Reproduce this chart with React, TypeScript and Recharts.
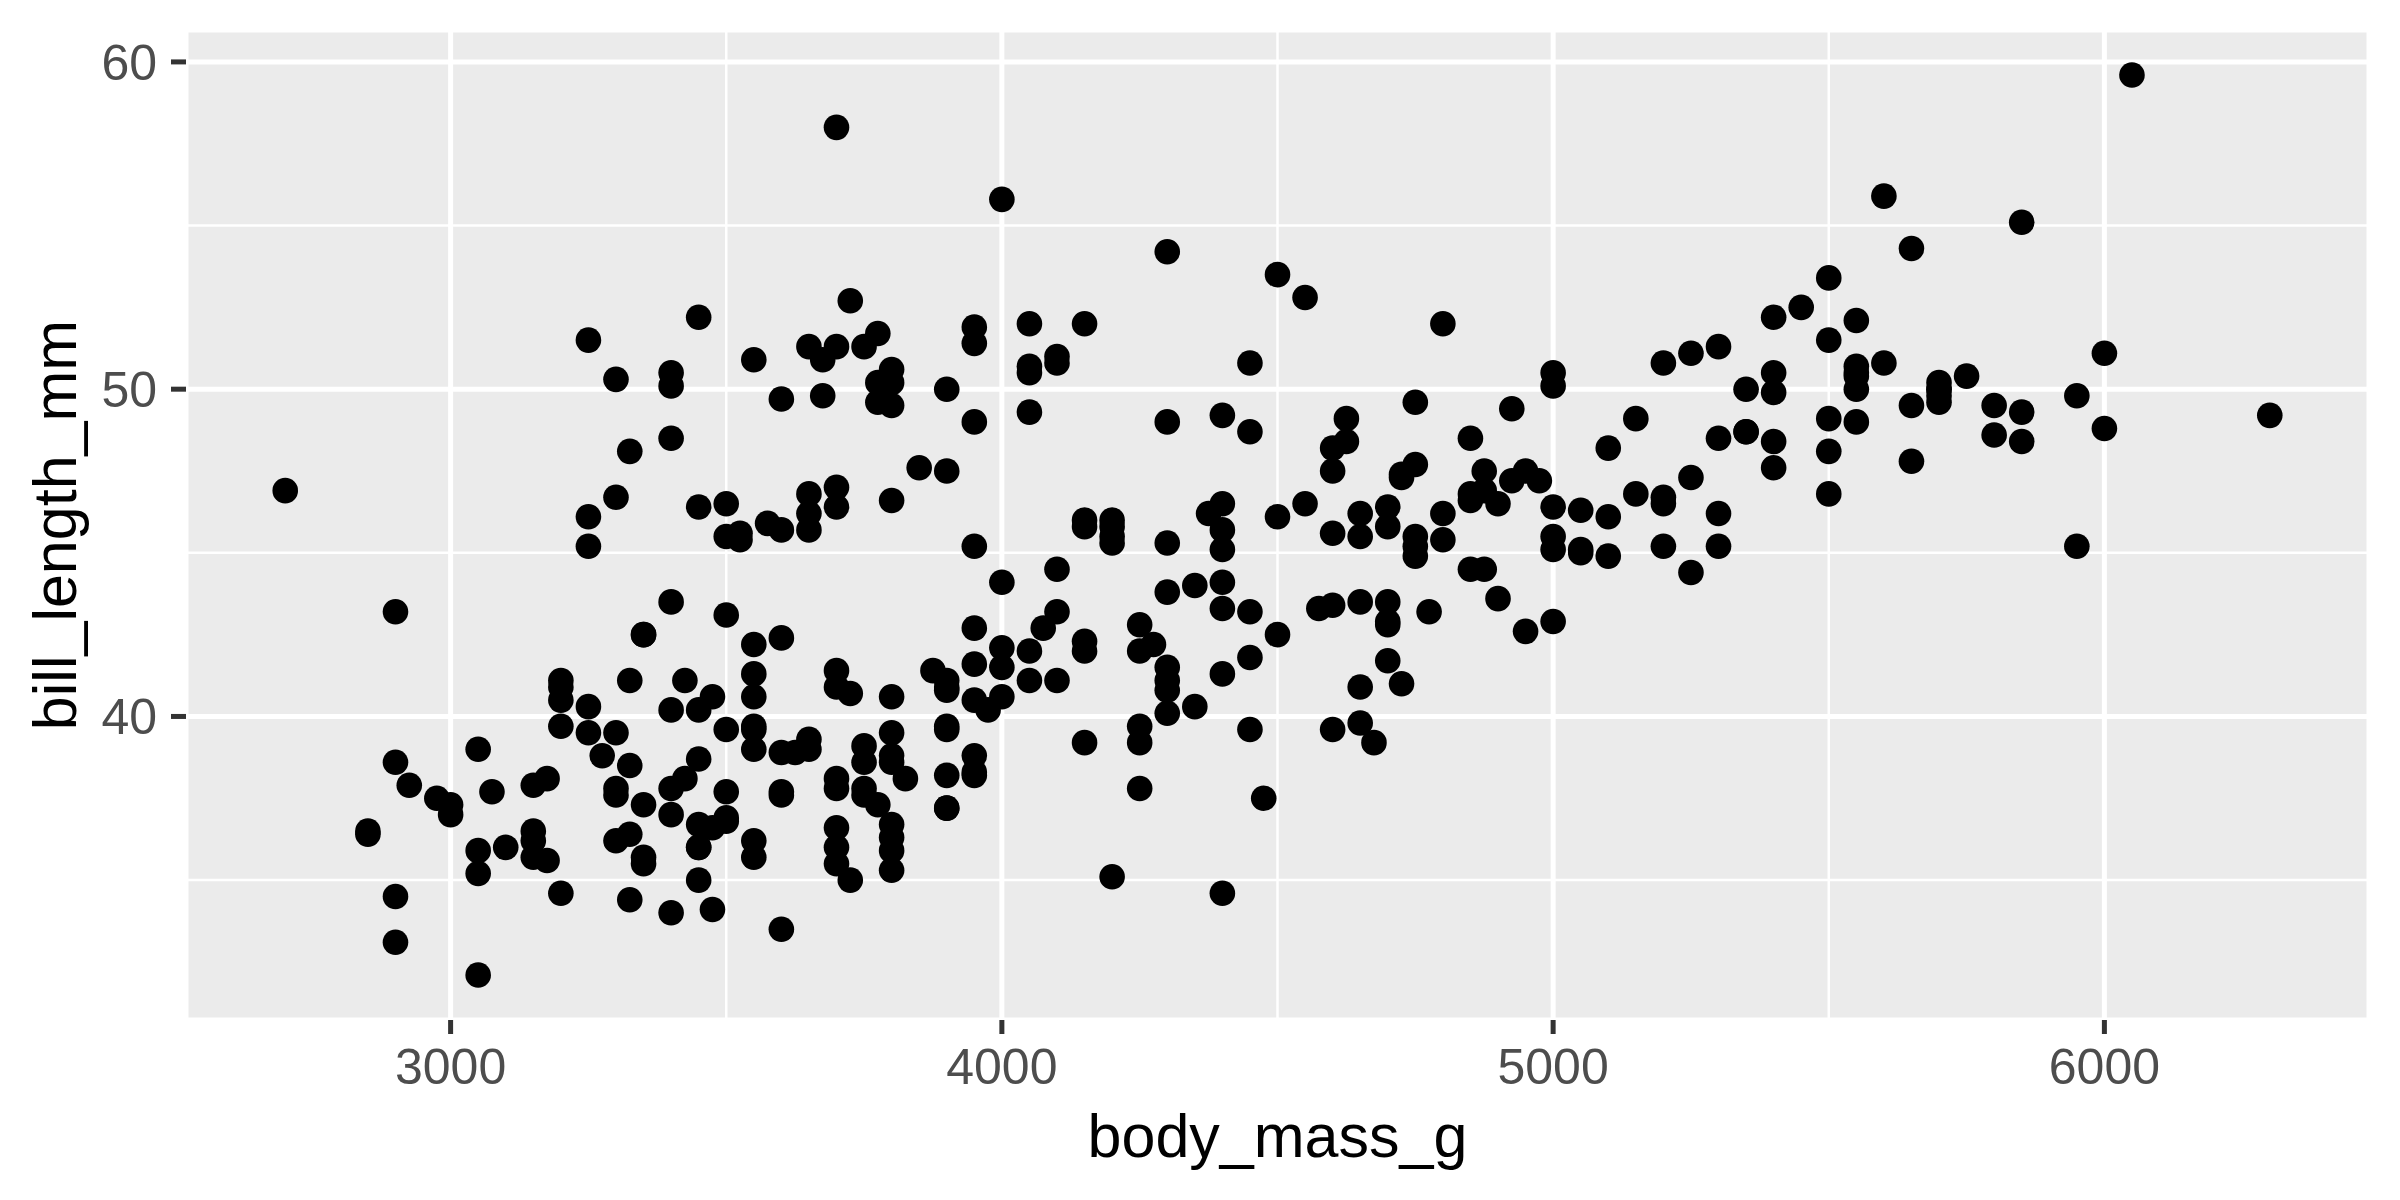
import React from "react";
import { ScatterChart, Scatter, XAxis, YAxis, CartesianGrid, Label } from "recharts";

// penguins: body mass (g) and bill length (mm), one pair per bird
const adelieMass = [3750, 3800, 3250, 3450, 3650, 3625, 4675, 3475, 4250, 3300, 3700, 3200, 3800, 4400, 3700, 3450, 4500, 3325, 4200, 3400, 3600, 3800, 3950, 3800, 3800, 3550, 3200, 3150, 3950, 3250, 3900, 3300, 3900, 3325, 4150, 3950, 3550, 3300, 4650, 3150, 3900, 3100, 4400, 3000, 4600, 3425, 2975, 3450, 4150, 3500, 4300, 3450, 4050, 2900, 3700, 3550, 3800, 2850, 3750, 3150, 4400, 3600, 4050, 2850, 3950, 3350, 4100, 3050, 4450, 3600, 3900, 3550, 4150, 3700, 4250, 3700, 3900, 3550, 4000, 3200, 4700, 3800, 4200, 3350, 3550, 3800, 3500, 3950, 3600, 3550, 4300, 3400, 4450, 3300, 4300, 3700, 4350, 2900, 4100, 3725, 4725, 3075, 4250, 2925, 3550, 3750, 3900, 3175, 4775, 3825, 4600, 3200, 4275, 3900, 4075, 2900, 3775, 3350, 3325, 3150, 3500, 3450, 3875, 3050, 4000, 3275, 4300, 3050, 4000, 3325, 3500, 3500, 4475, 3425, 3900, 3175, 3975, 3400, 4250, 3400, 3475, 3050, 3725, 3000, 3650, 4250, 3475, 3450, 3750, 3700, 4000];
const adelieBill = [39.1, 39.5, 40.3, 36.7, 39.3, 38.9, 39.2, 34.1, 42.0, 37.8, 37.8, 41.1, 38.6, 34.6, 36.6, 38.7, 42.5, 34.4, 46.0, 37.8, 37.7, 35.9, 38.2, 38.8, 35.3, 40.6, 40.5, 37.9, 40.5, 39.5, 37.2, 39.5, 40.9, 36.4, 39.2, 38.8, 42.2, 37.6, 39.8, 36.5, 40.8, 36.0, 44.1, 37.0, 39.6, 41.1, 37.5, 36.0, 42.3, 39.6, 40.1, 35.0, 42.0, 34.5, 41.4, 39.0, 40.6, 36.5, 37.6, 35.7, 41.3, 37.6, 41.1, 36.4, 41.6, 35.5, 41.1, 35.9, 41.8, 33.5, 39.7, 39.6, 45.8, 35.5, 42.8, 40.9, 37.2, 36.2, 42.1, 34.6, 42.9, 36.7, 35.1, 37.3, 41.3, 36.3, 36.9, 38.3, 38.9, 35.7, 41.1, 34.0, 39.6, 36.2, 40.8, 38.1, 40.3, 33.1, 43.2, 35.0, 41.0, 37.7, 37.8, 37.9, 39.7, 38.6, 38.2, 38.1, 43.2, 38.1, 45.6, 39.7, 42.2, 39.6, 42.7, 38.6, 37.3, 35.7, 41.1, 36.2, 37.7, 40.2, 41.4, 35.2, 40.6, 38.8, 41.5, 39.0, 44.1, 38.5, 43.1, 36.8, 37.5, 38.1, 41.1, 35.6, 40.2, 37.0, 39.7, 40.2, 40.6, 32.1, 40.7, 37.3, 39.0, 39.2, 36.6, 36.0, 37.8, 36.0, 41.5];

const gentooMass = [4500, 5700, 4450, 5700, 5400, 4550, 4800, 5200, 4400, 5150, 4650, 5550, 4650, 5850, 4200, 5850, 4150, 6300, 4800, 5350, 5700, 5000, 4400, 5050, 5000, 5100, 4100, 5650, 4600, 5550, 5250, 4700, 5050, 6050, 5150, 5400, 4950, 5250, 4350, 5350, 3950, 5700, 4300, 4750, 5550, 4900, 4200, 5400, 5100, 5300, 4850, 5300, 4400, 5000, 4900, 5050, 4300, 5000, 4450, 5550, 4200, 5300, 4400, 5650, 4700, 5700, 4650, 5800, 4700, 5550, 4750, 5000, 5100, 5200, 4700, 5800, 4600, 6000, 4750, 5950, 4625, 5450, 4725, 5350, 4750, 5600, 4600, 5300, 4875, 5550, 4950, 5400, 4750, 5650, 4850, 5200, 4925, 4875, 4625, 5250, 4850, 5600, 4975, 5500, 4725, 5500, 4700, 5500, 4575, 5500, 5000, 5950, 4650, 5500, 4375, 5850, 4875, 6000, 4925, 4850, 5750, 5200, 5400];
const gentooBill = [46.1, 50.0, 48.7, 50.0, 47.6, 46.5, 45.4, 46.7, 43.3, 46.8, 40.9, 49.0, 45.5, 48.4, 45.8, 49.3, 42.0, 49.2, 46.2, 48.7, 50.2, 45.1, 46.5, 46.3, 42.9, 46.1, 44.5, 47.8, 48.2, 50.0, 47.3, 42.8, 45.1, 59.6, 49.1, 48.4, 42.6, 44.4, 44.0, 48.7, 42.7, 49.6, 45.3, 49.6, 50.5, 43.6, 45.5, 50.5, 44.9, 45.2, 46.6, 48.5, 45.1, 50.1, 46.5, 45.0, 43.8, 45.5, 43.2, 50.4, 45.3, 46.2, 45.7, 54.3, 45.8, 49.8, 46.2, 49.5, 43.5, 50.7, 47.7, 46.4, 48.2, 46.5, 46.4, 48.6, 47.5, 51.1, 45.2, 45.2, 49.1, 52.5, 47.4, 50.0, 44.9, 50.8, 43.4, 51.3, 47.5, 52.1, 47.5, 52.2, 45.5, 49.5, 44.5, 50.8, 49.4, 46.9, 48.4, 51.1, 48.5, 55.9, 47.2, 49.1, 47.3, 46.8, 41.7, 53.4, 43.3, 48.1, 50.5, 49.8, 43.5, 51.5, 46.2, 55.1, 44.5, 48.8, 47.2, 46.8, 50.4, 45.2, 49.9];

const chinstrapMass = [3500, 3900, 3650, 3525, 3725, 3950, 3250, 3750, 4150, 3700, 3800, 3775, 3700, 4050, 3575, 4050, 3300, 3700, 3450, 4400, 3600, 3400, 2900, 3800, 3300, 4150, 3400, 3800, 3700, 4550, 3200, 4300, 3350, 4100, 3600, 3900, 3850, 4800, 2700, 4500, 3950, 3650, 3550, 3500, 3675, 4450, 3400, 4300, 3250, 3675, 3325, 3950, 3600, 4050, 3350, 3450, 3250, 4050, 3800, 3525, 3950, 3650, 3650, 4000, 3400, 3775, 4100, 3775];
const chinstrapBill = [46.5, 50.0, 51.3, 45.4, 52.7, 45.2, 46.1, 51.3, 46.0, 51.3, 46.6, 51.7, 47.0, 52.0, 45.9, 50.5, 50.3, 58.0, 46.4, 49.2, 42.4, 48.5, 43.2, 50.6, 46.7, 52.0, 50.5, 49.5, 46.4, 52.8, 40.9, 54.2, 42.5, 51.0, 49.7, 47.5, 47.6, 52.0, 46.9, 53.5, 49.0, 46.2, 50.9, 45.5, 50.9, 50.8, 50.1, 49.0, 51.5, 49.8, 48.1, 51.4, 45.7, 50.7, 42.5, 52.2, 45.2, 49.3, 50.2, 45.6, 51.9, 46.8, 45.7, 55.8, 43.5, 49.6, 50.8, 50.2];

const xTicks = [3000, 4000, 5000, 6000];
const xMinorTicks = [3500, 4500, 5500];
const yTicks = [40, 50, 60];
const yMinorTicks = [35, 45, 55];

const pairs = (mass: number[], bill: number[]) => mass.map((m, i) => ({ body_mass_g: m, bill_length_mm: bill[i] }));
const points = [
  ...pairs(adelieMass, adelieBill),
  ...pairs(gentooMass, gentooBill),
  ...pairs(chinstrapMass, chinstrapBill),
];

const font = "'Liberation Sans', Arial, Helvetica, sans-serif";
const xDomain = [2520, 6480];
const yDomain = [30.725, 60.975];

const Dot = (props: any) => <circle cx={props.cx} cy={props.cy} r={12.8} fill="#000000" />;

const App = () => {
  return (
    <div style={{ position: "absolute", left: 0, top: 0, width: 2400, height: 1200, background: "#ffffff" }}>
      <ScatterChart width={2400} height={1200} margin={{ top: 30, right: 31, bottom: 0, left: 0 }}>
        <CartesianGrid xAxisId="minor" yAxisId="minor" fill="#EBEBEB" stroke="#ffffff" strokeWidth={2.5} />
        <CartesianGrid fill="none" stroke="#ffffff" strokeWidth={5} />
        <XAxis xAxisId="minor" type="number" dataKey="body_mass_g" domain={xDomain} ticks={xMinorTicks} allowDataOverflow hide />
        <YAxis yAxisId="minor" type="number" dataKey="bill_length_mm" domain={yDomain} ticks={yMinorTicks} allowDataOverflow hide />
        <XAxis
          type="number"
          dataKey="body_mass_g"
          domain={xDomain}
          ticks={xTicks}
          allowDataOverflow
          interval={0}
          height={180}
          axisLine={false}
          tickSize={14}
          tickMargin={14}
          tickLine={{ stroke: "#333333", strokeWidth: 5 }}
          tick={{ fill: "#4D4D4D", fontSize: 50, fontFamily: font }}
        >
          <Label value="body_mass_g" position="insideBottom" offset={43} fill="#000000" fontSize={61} fontFamily={font} />
        </XAxis>
        <YAxis
          type="number"
          dataKey="bill_length_mm"
          domain={yDomain}
          ticks={yTicks}
          allowDataOverflow
          interval={0}
          width={186}
          axisLine={false}
          tickSize={15}
          tickMargin={14}
          tickLine={{ stroke: "#333333", strokeWidth: 5 }}
          tick={{ fill: "#4D4D4D", fontSize: 50, fontFamily: font }}
        >
          <Label
            content={({ viewBox }: any) => {
              const cx = viewBox.x + 76;
              const cy = viewBox.y + viewBox.height / 2;
              return (
                <text x={cx} y={cy} transform={`rotate(-90, ${cx}, ${cy})`} textAnchor="middle" fill="#000000" fontSize={61} fontFamily={font}>
                  bill_length_mm
                </text>
              );
            }}
          />
        </YAxis>
        <Scatter data={points} shape={Dot} isAnimationActive={false} />
      </ScatterChart>
    </div>
  );
};

export default App;
